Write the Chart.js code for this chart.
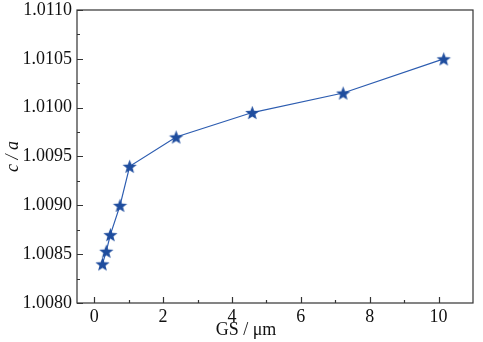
<!DOCTYPE html>
<html>
<head>
<meta charset="utf-8">
<script src="https://cdn.jsdelivr.net/npm/chart.js@4/dist/chart.umd.min.js"></script>
<style>
  html, body { margin: 0; padding: 0; background: #fff; }
  #wrap { width: 483px; height: 342px; }
</style>
</head>
<body>
<div id="wrap"><canvas id="chart" width="483" height="342"></canvas></div>
<script>
// grain size (µm) vs c/a ratio
const grainSize = [0.24, 0.35, 0.47, 0.75, 1.03, 2.38, 4.59, 7.23, 10.15];
const ratioCA = [1.00840, 1.00853, 1.00870, 1.00900, 1.00940, 1.00970, 1.00995, 1.01015, 1.01050];
const xTicks = [0, 2, 4, 6, 8, 10];
const xMinor = [1, 3, 5, 7, 9];
const yTicks = [1.0080, 1.0085, 1.0090, 1.0095, 1.0100, 1.0105, 1.0110];
const yMinor = [1.00825, 1.00875, 1.00925, 1.00975, 1.01025, 1.01075];
const xTitle = 'GS / μm';

const blue = '#1f4d9e';
const serif = "'Liberation Serif', 'DejaVu Serif', serif";

// filled five-point star used as the marker
function makeStar(r) {
    const c = document.createElement('canvas');
    const s = Math.ceil(r * 2 + 2);
    c.width = s; c.height = s;
    const g = c.getContext('2d');
    const cx = s / 2, cy = s / 2 + 0.8;
    g.beginPath();
    for (let i = 0; i < 10; i++) {
        const rad = i % 2 === 0 ? r : r * 0.42;
        const a = -Math.PI / 2 + i * Math.PI / 5;
        const px = cx + rad * Math.cos(a), py = cy + rad * Math.sin(a);
        if (i === 0) g.moveTo(px, py); else g.lineTo(px, py);
    }
    g.closePath();
    g.fillStyle = blue;
    g.fill();
    return c;
}
const star = makeStar(7.5);

// frame, inward ticks and the x title (sits left of centre)
const frame = {
    id: 'frame',
    afterDraw(chart) {
        const { ctx, chartArea: a, scales: { x, y } } = chart;
        ctx.save();
        ctx.strokeStyle = '#333';
        ctx.lineWidth = 1.2;
        ctx.strokeRect(a.left, a.top, a.right - a.left, a.bottom - a.top);
        ctx.beginPath();
        xTicks.forEach(v => { const p = Math.round(x.getPixelForValue(v)) + 0.5; ctx.moveTo(p, a.bottom); ctx.lineTo(p, a.bottom - 6); });
        xMinor.forEach(v => { const p = Math.round(x.getPixelForValue(v)) + 0.5; ctx.moveTo(p, a.bottom); ctx.lineTo(p, a.bottom - 3); });
        yTicks.forEach(v => { const p = Math.round(y.getPixelForValue(v)) + 0.5; ctx.moveTo(a.left, p); ctx.lineTo(a.left + 6, p); });
        yMinor.forEach(v => { const p = Math.round(y.getPixelForValue(v)) + 0.5; ctx.moveTo(a.left, p); ctx.lineTo(a.left + 3, p); });
        ctx.stroke();

        ctx.fillStyle = '#111';
        ctx.font = '18px ' + serif;
        ctx.textAlign = 'center';
        ctx.textBaseline = 'alphabetic';
        ctx.fillText(xTitle, a.left + 169, 335);
        ctx.restore();
    }
};

new Chart(document.getElementById('chart'), {
    type: 'line',
    data: {
        datasets: [{
            data: grainSize.map((v, i) => ({ x: v, y: ratioCA[i] })),
            borderColor: '#2c5cb0',
            borderWidth: 1.2,
            pointStyle: star,
            tension: 0
        }]
    },
    options: {
        responsive: false,
        animation: false,
        layout: { padding: { top: 10, right: 10, left: 2, bottom: 0 } },
        plugins: { legend: { display: false }, tooltip: { enabled: false } },
        scales: {
            x: {
                type: 'linear',
                min: -0.5,
                max: 11,
                afterBuildTicks: s => { s.ticks = xTicks.map(v => ({ value: v })); },
                afterFit: s => { s.height = 39; s.paddingLeft = 0; s.paddingRight = 0; },
                grid: { display: false, drawTicks: false },
                border: { display: false },
                ticks: { color: '#111', padding: 3, font: { family: serif, size: 18 } },
                title: { display: false }
            },
            y: {
                min: 1.008,
                max: 1.011,
                afterBuildTicks: s => { s.ticks = yTicks.map(v => ({ value: v })); },
                afterFit: s => { s.width = 75; s.paddingTop = 0; s.paddingBottom = 0; },
                grid: { display: false, drawTicks: false },
                border: { display: false },
                ticks: { color: '#111', padding: 5, font: { family: serif, size: 18 }, callback: v => v.toFixed(4) },
                title: { display: true, text: 'c / a', color: '#111', padding: 0, font: { family: serif, size: 18, style: 'italic' } }
            }
        }
    },
    plugins: [frame]
});
</script>
</body>
</html>
